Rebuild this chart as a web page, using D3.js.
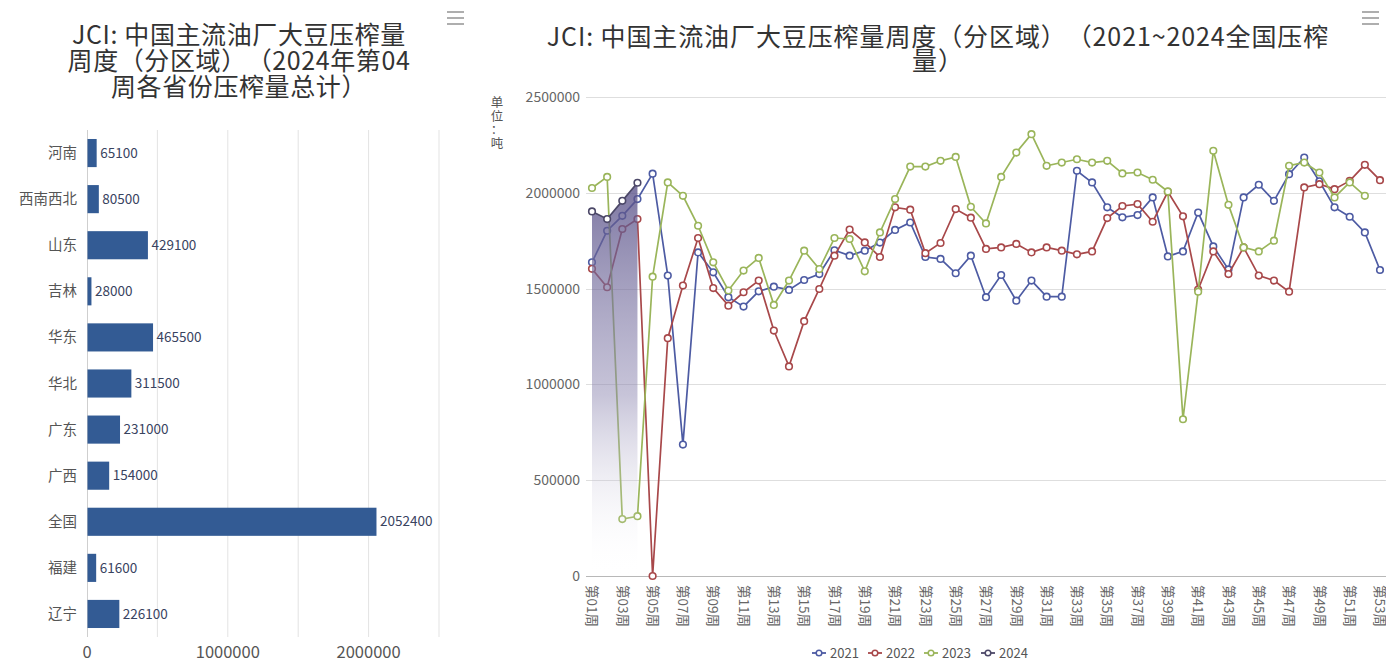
<!DOCTYPE html>
<html>
<head>
<meta charset="utf-8">
<script src="https://cdn.jsdelivr.net/npm/d3@7"></script>
<style>
  body { margin: 0; background: #fff; }
  svg { display: block; font-family: "Noto Sans CJK SC", "Noto Sans", sans-serif; }
  .title { text-spacing-trim: space-all; font-feature-settings: "chws" 0, "halt" 0; }
</style>
</head>
<body>
<svg id="chart" width="1386" height="662"></svg>
<script>
// ---- Left panel: week 04 of 2024, crush volume per region (tonnes) ----
const regions = ["河南", "西南西北", "山东", "吉林", "华东", "华北", "广东", "广西", "全国", "福建", "辽宁"];
const regionVolumes = [65100, 80500, 429100, 28000, 465500, 311500, 231000, 154000, 2052400, 61600, 226100];
const regionTicks = [0, 1000000, 2000000];
const regionGrid = [0, 500000, 1000000, 1500000, 2000000, 2500000];

// ---- Right panel: national weekly crush volume, 2021-2024 (tonnes) ----
const weeks = [
  "第01周","第02周","第03周","第04周","第05周","第06周","第07周","第08周","第09周","第10周",
  "第11周","第12周","第13周","第14周","第15周","第16周","第17周","第18周","第19周","第20周",
  "第21周","第22周","第23周","第24周","第25周","第26周","第27周","第28周","第29周","第30周",
  "第31周","第32周","第33周","第34周","第35周","第36周","第37周","第38周","第39周","第40周",
  "第41周","第42周","第43周","第44周","第45周","第46周","第47周","第48周","第49周","第50周",
  "第51周","第52周","第53周"
];
const weekTickLabels = weeks.filter((w, i) => i % 2 === 0);
const volumeTicks = [0, 500000, 1000000, 1500000, 2000000, 2500000];

const crush2021 = [
  1637000, 1802000, 1880000, 1967000, 2100000, 1568000, 686000, 1689000, 1585000, 1455000,
  1406000, 1486000, 1510000, 1493000, 1545000, 1576000, 1700000, 1672000, 1698000, 1740000,
  1806000, 1845000, 1665000, 1655000, 1580000, 1672000, 1455000, 1571000, 1437000, 1542000,
  1458000, 1458000, 2115000, 2054000, 1924000, 1872000, 1884000, 1976000, 1668000, 1694000,
  1897000, 1720000, 1600000, 1976000, 2042000, 1958000, 2097000, 2184000, 2060000, 1924000,
  1875000, 1793000, 1597000
];
const crush2022 = [
  1603000, 1507000, 1811000, 1863000, 0, 1241000, 1516000, 1764000, 1503000, 1411000,
  1481000, 1542000, 1281000, 1094000, 1330000, 1498000, 1672000, 1808000, 1741000, 1665000,
  1924000, 1912000, 1685000, 1738000, 1915000, 1870000, 1707000, 1715000, 1733000, 1689000,
  1715000, 1698000, 1679000, 1694000, 1868000, 1931000, 1941000, 1849000, 2005000, 1877000,
  1495000, 1694000, 1576000, 1715000, 1568000, 1542000, 1484000, 2028000, 2045000, 2019000,
  2062000, 2146000, 2066000
];
const crush2023 = [
  2025000, 2083000, 297000, 312000, 1562000, 2054000, 1984000, 1828000, 1637000, 1490000,
  1594000, 1660000, 1415000, 1542000, 1698000, 1602000, 1764000, 1759000, 1590000, 1793000,
  1967000, 2137000, 2137000, 2167000, 2187000, 1927000, 1840000, 2083000, 2210000, 2306000,
  2141000, 2158000, 2175000, 2158000, 2167000, 2101000, 2106000, 2068000, 2007000, 818000,
  1484000, 2219000, 1937000, 1715000, 1694000, 1750000, 2141000, 2158000, 2106000, 1976000,
  2054000, 1984000
];
const crush2024 = [1903000, 1863000, 1958000, 2052400];

const seriesNames = ["2021", "2022", "2023", "2024"];
const seriesColors = ["#4d5ba3", "#a8484a", "#9ab55a", "#4c4868"];
const seriesData = [crush2021, crush2022, crush2023, crush2024];

const svg = d3.select("#chart");

// toolbox "menu" glyph
function menuIcon(x, y) {
  const g = svg.append("g").attr("transform", `translate(${x},${y})`);
  [0, 6, 12].forEach(dy => g.append("line")
    .attr("x1", 0).attr("x2", 17).attr("y1", dy).attr("y2", dy)
    .attr("stroke", "#9a9a9a").attr("stroke-width", 1.6));
}
menuIcon(447, 12);
menuIcon(1362, 12);

// multi-line text block built from tspans
function textBlock(parent, lines, x, y, lineHeight) {
  const t = parent.append("text").attr("x", x).attr("y", y);
  t.selectAll("tspan").data(lines).join("tspan")
    .attr("x", x)
    .attr("dy", (d, i) => i === 0 ? 0 : lineHeight)
    .text(d => d);
  return t;
}

// ================= Left panel =================
const leftTitle = ["JCI: 中国主流油厂大豆压榨量", "周度（分区域）（2024年第04", "周各省份压榨量总计）"];
textBlock(svg, leftTitle, 239, 44, 26)
  .attr("class", "title")
  .attr("text-anchor", "middle")
  .attr("font-size", 25).attr("letter-spacing", 0.6).attr("fill", "#333");

const xL = d3.scaleLinear().domain([0, 2500000]).range([87, 439]);
const yL = d3.scaleBand().domain(regions).range([130, 637]).paddingInner(0.39).paddingOuter(0.195);

const left = svg.append("g");
left.append("g").selectAll("line").data(regionGrid.slice(1)).join("line")
  .attr("x1", d => xL(d)).attr("x2", d => xL(d))
  .attr("y1", 130).attr("y2", 637)
  .attr("stroke", "#e3e3e3").attr("stroke-width", 1);

left.append("line")
  .attr("x1", 87.5).attr("x2", 87.5).attr("y1", 130).attr("y2", 637)
  .attr("stroke", "#cfcfcf");

left.append("g").selectAll("rect").data(regions).join("rect")
  .attr("x", xL(0) + 0.5)
  .attr("y", d => yL(d))
  .attr("width", (d, i) => xL(regionVolumes[i]) - xL(0))
  .attr("height", yL.bandwidth())
  .attr("fill", "#335b94");

left.append("g").selectAll("text").data(regions).join("text")
  .attr("x", (d, i) => xL(regionVolumes[i]) + 4)
  .attr("y", d => yL(d) + yL.bandwidth() / 2)
  .attr("dy", "0.35em")
  .attr("font-size", 13.5).attr("fill", "#39435f")
  .text((d, i) => regionVolumes[i]);

left.append("g").selectAll("text").data(regions).join("text")
  .attr("x", 77)
  .attr("y", d => yL(d) + yL.bandwidth() / 2)
  .attr("dy", "0.35em")
  .attr("text-anchor", "end")
  .attr("font-size", 14.5).attr("fill", "#555")
  .text(d => d);

left.append("g").selectAll("text").data(regionTicks).join("text")
  .attr("x", d => xL(d)).attr("y", 652).attr("dy", "0.35em")
  .attr("text-anchor", "middle")
  .attr("font-size", 16.5).attr("fill", "#555")
  .text(d => d);

// ================= Right panel =================
const rightTitle = ["JCI: 中国主流油厂大豆压榨量周度（分区域）（2021~2024全国压榨", "量）"];
textBlock(svg, rightTitle, 938, 46, 24)
  .attr("class", "title")
  .attr("text-anchor", "middle")
  .attr("font-size", 25).attr("letter-spacing", 0.9).attr("fill", "#333");

const xR = d3.scalePoint().domain(weeks).range([592, 1380]);
const yR = d3.scaleLinear().domain([0, 2500000]).range([576, 97]);

const right = svg.append("g");

right.append("g").selectAll("line").data(volumeTicks).join("line")
  .attr("x1", 586).attr("x2", 1386)
  .attr("y1", d => Math.round(yR(d)) + 0.5).attr("y2", d => Math.round(yR(d)) + 0.5)
  .attr("stroke", d => d === 0 ? "#b8b8b8" : "#dedede").attr("stroke-width", 1);

right.append("g").selectAll("text").data(volumeTicks).join("text")
  .attr("x", 580).attr("y", d => yR(d)).attr("dy", "0.35em")
  .attr("text-anchor", "end")
  .attr("font-size", 14).attr("fill", "#666")
  .text(d => d);

// axis name, stacked vertically one character per line
const unitChars = ["单", "位", "：", "吨"];
textBlock(right, unitChars, 497, 107, 13.5)
  .attr("text-anchor", "middle")
  .attr("font-size", 12.5).attr("fill", "#555");

// rotated week labels
right.append("g").selectAll("text").data(weekTickLabels).join("text")
  .attr("transform", d => `translate(${xR(d)},585) rotate(90)`)
  .attr("dy", "0.35em")
  .attr("font-size", 13.5).attr("fill", "#666")
  .text(d => d);

// 2024 area with vertical fade
const defs = svg.append("defs");
const grad = defs.append("linearGradient").attr("id", "fade2024")
  .attr("gradientUnits", "userSpaceOnUse")
  .attr("x1", 0).attr("x2", 0)
  .attr("y1", yR(2100000)).attr("y2", yR(0));
grad.append("stop").attr("offset", 0).attr("stop-color", "#564e86").attr("stop-opacity", 0.8);
grad.append("stop").attr("offset", 0.55).attr("stop-color", "#8f89b2").attr("stop-opacity", 0.5);
grad.append("stop").attr("offset", 1).attr("stop-color", "#ffffff").attr("stop-opacity", 0);

const line = d3.line().x((d, i) => xR(weeks[i])).y(d => yR(d));
const area = d3.area().x((d, i) => xR(weeks[i])).y0(yR(0)).y1(d => yR(d));

seriesData.forEach((data, k) => {
  if (k === 3) {
    right.append("path").datum(data).attr("d", area).attr("fill", "url(#fade2024)");
  }
  right.append("path").datum(data).attr("d", line)
    .attr("fill", "none").attr("stroke", seriesColors[k]).attr("stroke-width", 1.7);
  right.append("g").selectAll("circle").data(data).join("circle")
    .attr("cx", (d, i) => xR(weeks[i])).attr("cy", d => yR(d))
    .attr("r", 3.3)
    .attr("fill", "#fff").attr("stroke", seriesColors[k]).attr("stroke-width", 1.6);
});

// legend
const legendX = [812, 868, 924, 981];
const legend = right.append("g").selectAll("g").data(seriesNames).join("g")
  .attr("transform", (d, i) => `translate(${legendX[i]},653)`);
legend.append("line").attr("x1", 0).attr("x2", 14).attr("y1", 0).attr("y2", 0)
  .attr("stroke", (d, i) => seriesColors[i]).attr("stroke-width", 1.8);
legend.append("circle").attr("cx", 7).attr("cy", 0).attr("r", 2.8)
  .attr("fill", "#fff").attr("stroke", (d, i) => seriesColors[i]).attr("stroke-width", 1.5);
legend.append("text").attr("x", 18).attr("dy", "0.35em")
  .attr("font-size", 13).attr("fill", "#555")
  .text(d => d);
</script>
</body>
</html>
